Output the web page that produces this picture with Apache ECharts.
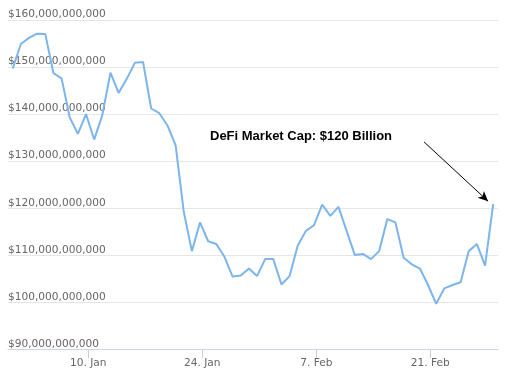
<!DOCTYPE html>
<html>
<head>
<meta charset="utf-8">
<script src="https://cdn.jsdelivr.net/npm/echarts@6/dist/echarts.min.js"></script>
<style>
	html, body { margin: 0; padding: 0; background: #fff; }
	#chart1 { width: 513px; height: 376px; }
</style>
</head>
<body>
<div id="chart1"></div>
<script>
// DeFi market cap, one value per day (billions of dollars)
// x is counted in days from 31 Dec 00:00, samples are taken at ~17:00
var firstDay = 0.72;
var capValues = [149.7, 154.9, 156.2, 157.1, 157.0, 148.7, 147.6, 139.3, 135.8, 140.0,
	134.6, 139.8, 148.8, 144.5, 147.5, 150.9, 151.1, 141.2, 140.2, 137.6,
	133.4, 119.3, 110.9, 117.0, 113.0, 112.4, 109.7, 105.5, 105.7, 107.2,
	105.6, 109.2, 109.2, 103.8, 105.6, 112.1, 115.2, 116.4, 120.8, 118.4,
	120.3, 115.2, 110.1, 110.3, 109.2, 110.9, 117.7, 117.0, 109.5, 108.1,
	107.2, 103.7, 99.7, 103.0, 103.7, 104.3, 110.9, 112.4, 107.8, 120.9];
var tickDays = [10, 24, 38, 52];
var tickLabels = ['10. Jan', '24. Jan', '7. Feb', '21. Feb'];
var noteText = 'DeFi Market Cap: $120 Billion';
var arrowFrom = [51.23, 134.1];
var arrowTo = [59.09, 121.5];

var seriesData = [];
for (var i = 0; i < capValues.length; i++) {
	seriesData.push([firstDay + i, capValues[i]]);
}

function dollars(v) {
	var s = String(Math.round(v * 1e9));
	return '$' + s.replace(/\B(?=(\d{3})+(?!\d))/g, ',');
}

var chart = echarts.init(document.getElementById('chart1'));
chart.setOption({
	animation: false,
	backgroundColor: '#ffffff',
	grid: {
		left: 8,
		right: 15,
		top: 20,
		bottom: 26.5
	},
	xAxis: {
		type: 'value',
		min: 0.14,
		max: 60.31,
		axisLine: { show: true, onZero: false, lineStyle: { color: '#ccd6eb', width: 1 } },
		axisTick: {
			show: true,
			customValues: tickDays,
			length: 9,
			lineStyle: { color: '#c4d0e8' }
		},
		axisLabel: {
			customValues: tickDays,
			margin: 8,
			color: '#666666',
			fontSize: 10.6,
			fontFamily: 'DejaVu Sans',
			formatter: function(v) {
				var k = tickDays.indexOf(Math.round(v));
				return k >= 0 ? tickLabels[k] : '';
			}
		},
		splitLine: { show: false }
	},
	yAxis: {
		type: 'value',
		min: 90,
		max: 160,
		interval: 10,
		axisLine: { show: false },
		axisTick: { show: false },
		axisLabel: {
			inside: true,
			margin: 0,
			align: 'left',
			verticalAlign: 'bottom',
			color: '#666666',
			fontSize: 10.6,
			fontFamily: 'DejaVu Sans',
			formatter: dollars
		},
		splitLine: { lineStyle: { color: '#e6e6e6', width: 1 } }
	},
	series: [{
		type: 'line',
		data: seriesData,
		showSymbol: false,
		lineStyle: { color: '#7cb5ec', width: 2 },
		itemStyle: { color: '#7cb5ec' },
		markLine: {
			silent: true,
			symbol: ['none', 'arrow'],
			symbolSize: [7, 10],
			label: { show: false },
			lineStyle: { color: '#000000', width: 1, type: 'solid' },
			data: [[{ coord: arrowFrom }, { coord: arrowTo }]]
		}
	}],
	graphic: [{
		type: 'text',
		left: 210,
		top: 130,
		style: {
			text: noteText,
			fill: '#000000',
			font: 'bold 13px "Liberation Sans", Arial, sans-serif'
		}
	}]
});
</script>
</body>
</html>
